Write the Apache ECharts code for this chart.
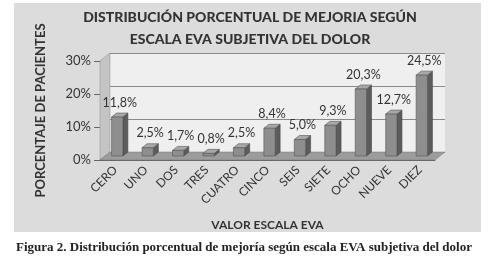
<!DOCTYPE html>
<html>
<head>
<meta charset="utf-8">
<script src="https://cdn.jsdelivr.net/npm/echarts@6/dist/echarts.min.js"></script>
<style>
  body { margin: 0; background: #fff; }
  #chart { width: 492px; height: 263px; }
</style>
</head>
<body>
<div id="chart"></div>
<script>
// datos
const categorias = ['CERO', 'UNO', 'DOS', 'TRES', 'CUATRO', 'CINCO', 'SEIS', 'SIETE', 'OCHO', 'NUEVE', 'DIEZ'];
const porcentajes = [11.8, 2.5, 1.7, 0.8, 2.5, 8.4, 5.0, 9.3, 20.3, 12.7, 24.5];
const ticksY = [0, 10, 20, 30];

const FUENTE = 'Lato';
const DX = 10, DY = 8;   // profundidad de la caja 3D

// barras 3D dibujadas con las escalas del eje
function barra3d(params, api) {
  const base = api.coord([api.value(0), 0]);
  const tope = api.coord([api.value(0), api.value(1)]);
  const w = api.size([1, 0])[0] * 0.37;
  const d = 5, dy = 4;
  const x0 = base[0] - w / 2 + 2, x1 = x0 + w;
  const yb = base[1] - 4, yt = tope[1] - 4;
  const texto = api.value(1).toFixed(1).replace('.', ',') + '%';
  return {
    type: 'group',
    children: [
      { type: 'polygon', shape: { points: [[x1, yb], [x1 + d, yb - dy], [x1 + d, yt - dy], [x1, yt]] },
        style: { fill: '#5c5c5c', stroke: '#444', lineWidth: 0.6 } },
      { type: 'polygon', shape: { points: [[x0, yt], [x1, yt], [x1 + d, yt - dy], [x0 + d, yt - dy]] },
        style: { fill: '#a8a8a8', stroke: '#555', lineWidth: 0.6 } },
      { type: 'rect', shape: { x: x0, y: yt, width: w, height: yb - yt },
        style: { fill: '#8e8e8e', stroke: '#555', lineWidth: 0.6 } },
      { type: 'text', x: (x0 + x1 + d) / 2, y: yt - dy - 4,
        style: { text: texto, fill: '#333', font: '12.5px ' + FUENTE, align: 'center', verticalAlign: 'bottom' } }
    ]
  };
}

const chart = echarts.init(document.getElementById('chart'));
chart.setOption({
  backgroundColor: '#fff',
  animation: false,
  title: {
    text: 'DISTRIBUCIÓN PORCENTUAL DE MEJORIA SEGÚN\nESCALA EVA SUBJETIVA DEL DOLOR',
    left: 245, top: 1, textAlign: 'center',
    textStyle: { fontFamily: FUENTE, fontWeight: 900, fontSize: 14, color: '#333', lineHeight: 22 }
  },
  grid: [
    { left: 100, top: 61, width: 335, height: 99, show: false },
    { left: 100 + DX, top: 61 - DY, width: 335, height: 99, show: true, backgroundColor: '#efefef', borderWidth: 0 }
  ],
  xAxis: [
    {
      type: 'category', gridIndex: 0, data: categorias,
      name: 'VALOR ESCALA EVA', nameLocation: 'middle', nameGap: 59,
      nameTextStyle: { fontFamily: FUENTE, fontWeight: 'bold', fontSize: 12, color: '#333' },
      axisLine: { lineStyle: { color: '#666' } },
      axisTick: { length: 5, lineStyle: { color: '#666' } },
      axisLabel: { interval: 0, rotate: 45, margin: 8, fontFamily: FUENTE, fontSize: 12, color: '#333' }
    },
    { type: 'category', gridIndex: 1, data: categorias, show: false }
  ],
  yAxis: [
    {
      type: 'value', gridIndex: 0, min: ticksY[0], max: ticksY[ticksY.length - 1], interval: 10,
      name: 'PORCENTAJE DE PACIENTES', nameLocation: 'middle', nameGap: 53,
      nameTextStyle: { fontFamily: FUENTE, fontWeight: 'bold', fontSize: 13, color: '#333' },
      axisLine: { show: true, lineStyle: { color: '#666' } },
      axisTick: { show: true, length: 6, lineStyle: { color: '#666' } },
      axisLabel: { formatter: '{value}%', margin: 9, fontFamily: FUENTE, fontSize: 13, color: '#333' },
      splitLine: { show: false }
    },
    {
      type: 'value', gridIndex: 1, min: ticksY[0], max: ticksY[ticksY.length - 1], interval: 10,
      axisLine: { show: false }, axisTick: { show: false }, axisLabel: { show: false },
      splitLine: { show: true, lineStyle: { color: '#8a8a8a', width: 1 } }
    }
  ],
  series: [{
    type: 'custom', xAxisIndex: 0, yAxisIndex: 0, z: 5,
    renderItem: barra3d,
    data: porcentajes.map((v, i) => [i, v])
  }]
});

// caja 3D: suelo y pared lateral a partir de las escalas
const p00 = chart.convertToPixel({ gridIndex: 0 }, [0, 0]);
const cat = chart.getModel().getComponent('xAxis', 0).axis;
const ancho = cat.getBandWidth();
const xi = p00[0] - ancho / 2, xf = xi + ancho * categorias.length;
const y0 = p00[1];
const yTop = chart.convertToPixel({ gridIndex: 0 }, [0, 30])[1];
chart.setOption({
  graphic: [
    { type: 'rect', z: -10, shape: { x: 14, y: 3, width: 467, height: 229 }, style: { fill: '#dcdcdc' } },
    { type: 'polygon', z: 1, shape: { points: [[xi, y0], [xi + DX, y0 - DY], [xi + DX, yTop - DY], [xi, yTop]] },
      style: { fill: '#c4c4c4', stroke: '#888', lineWidth: 0.5 } },
    { type: 'polygon', z: 1, shape: { points: [[xi, y0], [xf, y0], [xf + DX, y0 - DY], [xi + DX, y0 - DY]] },
      style: { fill: '#9c9c9c', stroke: '#777', lineWidth: 0.5 } },
    { type: 'text', z: 2, left: 16, top: 241,
      style: { text: 'Figura 2. Distribución porcentual de mejoría según escala EVA subjetiva del dolor',
        font: 'bold 13px "Liberation Serif"', fill: '#222' } }
  ]
});
</script>
</body>
</html>
